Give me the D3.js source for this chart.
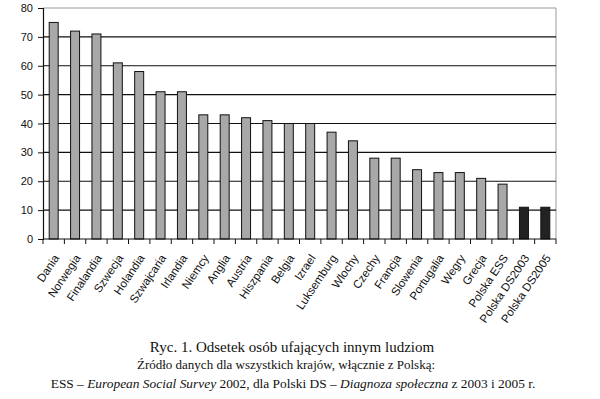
<!DOCTYPE html>
<html>
<head>
<meta charset="utf-8">
<script src="https://cdnjs.cloudflare.com/ajax/libs/d3/7.8.5/d3.min.js"></script>
<style>
  body { margin: 0; background: #fff; }
  svg { display: block; }
</style>
</head>
<body>
<div id="chart"></div>
<script>
// dane
const countries = ['Dania', 'Norwegia', 'Finalandia', 'Szwecja', 'Holandia', 'Szwajcaria',
  'Irlandia', 'Niemcy', 'Anglia', 'Austria', 'Hiszpania', 'Belgia', 'Izrael', 'Luksemburg',
  'Wlochy', 'Czechy', 'Francja', 'Slowenia', 'Portugalia', 'Wegry', 'Grecja', 'Polska ESS',
  'Polska DS2003', 'Polska DS2005'];
const trustValues = [75, 72, 71, 61, 58, 51, 51, 43, 43, 42, 41, 40, 40, 37, 34, 28, 28, 24, 23, 23, 21, 19, 11, 11];
const highlighted = ['Polska DS2003', 'Polska DS2005'];
const yTicks = [0, 10, 20, 30, 40, 50, 60, 70, 80];
const captionLines = [
  'Ryc. 1. Odsetek osób ufających innym ludziom',
  'Źródło danych dla wszystkich krajów, włącznie z Polską:'
];

const width = 600, height = 399;
const margin = {top: 8, left: 43, right: 44, bottom: 160};
const innerW = width - margin.left - margin.right;
const innerH = height - margin.top - margin.bottom;

const svg = d3.select('#chart').append('svg')
  .attr('width', width)
  .attr('height', height);

const g = svg.append('g')
  .attr('transform', `translate(${margin.left},${margin.top})`);

const x = d3.scaleBand()
  .domain(countries)
  .range([0, innerW])
  .paddingInner(0.58)
  .paddingOuter(0.29);

const y = d3.scaleLinear()
  .domain([0, 80])
  .range([innerH, 0]);

// ramka: górna i prawa krawędź szara
g.append('line')
  .attr('x1', 0).attr('x2', innerW)
  .attr('y1', y(80)).attr('y2', y(80))
  .attr('stroke', '#9a9a9a');
g.append('line')
  .attr('x1', innerW).attr('x2', innerW)
  .attr('y1', y(80)).attr('y2', y(0))
  .attr('stroke', '#9a9a9a');

// linie siatki
g.selectAll('.grid')
  .data(yTicks.filter(t => t > 0 && t < 80))
  .enter().append('line')
  .attr('class', 'grid')
  .attr('x1', 0).attr('x2', innerW)
  .attr('y1', d => y(d)).attr('y2', d => y(d))
  .attr('stroke', '#111')
  .attr('stroke-width', 1.2);

// słupki
g.selectAll('rect')
  .data(countries)
  .enter().append('rect')
  .attr('x', d => x(d))
  .attr('width', x.bandwidth())
  .attr('y', (d, i) => y(trustValues[i]))
  .attr('height', (d, i) => y(0) - y(trustValues[i]))
  .attr('fill', d => highlighted.includes(d) ? '#222' : '#a8a8a8')
  .attr('stroke', '#111')
  .attr('stroke-width', 1);

// oś Y
const yAxis = g.append('g')
  .call(d3.axisLeft(y).tickValues(yTicks).tickSize(5).tickPadding(5));
yAxis.select('.domain').attr('stroke', '#111').attr('stroke-width', 1.2);
yAxis.selectAll('.tick line').attr('stroke', '#111');
yAxis.selectAll('text')
  .attr('font-family', 'Liberation Sans, Arial, sans-serif')
  .attr('font-size', 11)
  .attr('fill', '#111');

// oś X - kreski na granicach kategorii
const step = x.step();
const xAxis = g.append('g').attr('transform', `translate(0,${innerH})`);
xAxis.append('line')
  .attr('x1', 0).attr('x2', innerW)
  .attr('stroke', '#111').attr('stroke-width', 1.2);
xAxis.selectAll('.xt')
  .data(d3.range(countries.length + 1))
  .enter().append('line')
  .attr('x1', i => i * step).attr('x2', i => i * step)
  .attr('y1', 0).attr('y2', 5)
  .attr('stroke', '#111');

xAxis.selectAll('.lbl')
  .data(countries)
  .enter().append('text')
  .attr('transform', d => `translate(${x(d) + x.bandwidth() / 2 + 6},${19}) rotate(-56)`)
  .attr('text-anchor', 'end')
  .attr('font-family', 'Liberation Sans, Arial, sans-serif')
  .attr('font-size', 11.5)
  .attr('fill', '#111')
  .text(d => d);

// podpis
const cap = svg.append('g')
  .attr('font-family', 'Liberation Serif, Times New Roman, serif')
  .attr('fill', '#111')
  .attr('text-anchor', 'middle');
cap.append('text')
  .attr('x', 292).attr('y', 352)
  .attr('font-size', 15)
  .text(captionLines[0]);
cap.append('text')
  .attr('x', 286).attr('y', 369)
  .attr('font-size', 13)
  .text(captionLines[1]);
const l3 = cap.append('text')
  .attr('x', 293).attr('y', 388)
  .attr('font-size', 13.4);
l3.append('tspan').text('ESS – ');
l3.append('tspan').attr('font-style', 'italic').text('European Social Survey');
l3.append('tspan').text(' 2002, dla Polski DS – ');
l3.append('tspan').attr('font-style', 'italic').text('Diagnoza społeczna');
l3.append('tspan').text(' z 2003 i 2005 r.');
</script>
</body>
</html>
